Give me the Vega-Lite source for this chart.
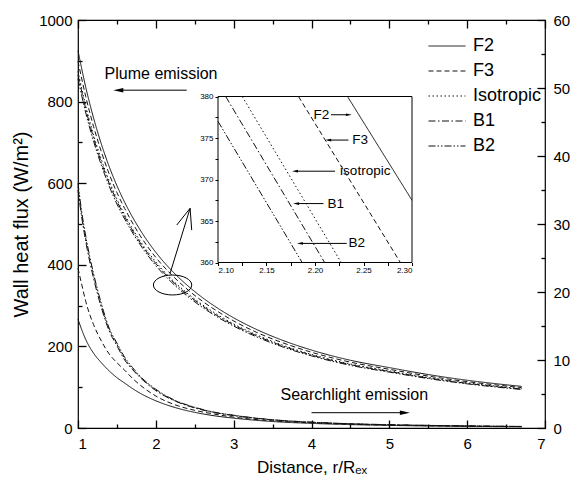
{
  "$schema": "https://vega.github.io/schema/vega-lite/v6.json",
  "width": 467,
  "height": 408,
  "autosize": {"type": "none"},
  "padding": {"left": 78, "top": 20, "right": 26, "bottom": 55},
  "background": "white",
  "config": {
    "font": "Liberation Sans",
    "view": {"stroke": "#000", "strokeWidth": 1.2},
    "axis": {
      "domain": false,
      "ticks": true,
      "tickColor": "#000",
      "tickOpacity": 1,
      "labelColor": "#000",
      "titleColor": "#000",
      "grid": false,
      "titleFontWeight": "normal",
      "labelFontSize": 15,
      "titleFontSize": 18,
      "tickWidth": 1.3,
      "zindex": 1
    },
    "legend": {"labelColor": "#000"}
  },
  "datasets": {
    "plume": [
      {"x": 1.0, "F2": 925, "F3": 899, "Isotropic": 874, "B1": 866, "B2": 856},
      {"x": 1.1, "F2": 835, "F3": 812, "Isotropic": 789, "B1": 782, "B2": 772},
      {"x": 1.2, "F2": 760, "F3": 739, "Isotropic": 718, "B1": 711, "B2": 703},
      {"x": 1.3, "F2": 696, "F3": 677, "Isotropic": 658, "B1": 651, "B2": 644},
      {"x": 1.4, "F2": 641, "F3": 623, "Isotropic": 606, "B1": 600, "B2": 593},
      {"x": 1.5, "F2": 594, "F3": 577, "Isotropic": 561, "B1": 556, "B2": 549},
      {"x": 1.6, "F2": 553, "F3": 538, "Isotropic": 523, "B1": 518, "B2": 512},
      {"x": 1.8, "F2": 485, "F3": 471, "Isotropic": 458, "B1": 454, "B2": 449},
      {"x": 2.0, "F2": 430.5, "F3": 418, "Isotropic": 407, "B1": 403, "B2": 398},
      {"x": 2.2, "F2": 386.6, "F3": 376, "Isotropic": 365, "B1": 362, "B2": 357.5},
      {"x": 2.4, "F2": 350.4, "F3": 340.6, "Isotropic": 331, "B1": 328, "B2": 324},
      {"x": 2.6, "F2": 319.5, "F3": 310.5, "Isotropic": 302, "B1": 299, "B2": 295.5},
      {"x": 2.8, "F2": 293, "F3": 285, "Isotropic": 277, "B1": 274, "B2": 271},
      {"x": 3.0, "F2": 270, "F3": 262.4, "Isotropic": 255, "B1": 252.7, "B2": 249.8},
      {"x": 3.3, "F2": 241, "F3": 234, "Isotropic": 228, "B1": 225.6, "B2": 223},
      {"x": 3.6, "F2": 217, "F3": 211, "Isotropic": 205, "B1": 203, "B2": 200.7},
      {"x": 4.0, "F2": 191, "F3": 185.7, "Isotropic": 180.5, "B1": 178.8, "B2": 176.7},
      {"x": 4.5, "F2": 166, "F3": 161.4, "Isotropic": 156.9, "B1": 155.4, "B2": 153.6},
      {"x": 5.0, "F2": 148, "F3": 143.9, "Isotropic": 139.9, "B1": 138.5, "B2": 136.9},
      {"x": 5.5, "F2": 131, "F3": 127.3, "Isotropic": 123.8, "B1": 122.6, "B2": 121.2},
      {"x": 6.0, "F2": 117, "F3": 113.7, "Isotropic": 110.6, "B1": 109.5, "B2": 108.2},
      {"x": 6.35, "F2": 109, "F3": 106, "Isotropic": 103, "B1": 102, "B2": 100.8},
      {"x": 6.7, "F2": 102, "F3": 99.1, "Isotropic": 96.4, "B1": 95.5, "B2": 94.4}
    ],
    "search": [
      {"x": 1.0, "F2": 16.0, "F3": 23.5, "Isotropic": 35.5, "B1": 35.0, "B2": 36.0},
      {"x": 1.05, "F2": 14.4, "F3": 21.0, "Isotropic": 31.2, "B1": 30.8, "B2": 31.6},
      {"x": 1.1, "F2": 13.0, "F3": 18.6, "Isotropic": 27.8, "B1": 27.4, "B2": 28.2},
      {"x": 1.2, "F2": 11.0, "F3": 15.2, "Isotropic": 22.4, "B1": 22.0, "B2": 22.7},
      {"x": 1.3, "F2": 9.6, "F3": 12.8, "Isotropic": 18.0, "B1": 17.7, "B2": 18.3},
      {"x": 1.4, "F2": 8.4, "F3": 10.9, "Isotropic": 14.5, "B1": 14.3, "B2": 14.7},
      {"x": 1.5, "F2": 7.4, "F3": 9.6, "Isotropic": 12.3, "B1": 12.1, "B2": 12.5},
      {"x": 1.6, "F2": 6.6, "F3": 8.5, "Isotropic": 10.2, "B1": 10.0, "B2": 10.4},
      {"x": 1.7, "F2": 5.8, "F3": 7.3, "Isotropic": 8.7, "B1": 8.6, "B2": 8.9},
      {"x": 1.8, "F2": 5.1, "F3": 6.3, "Isotropic": 7.5, "B1": 7.4, "B2": 7.6},
      {"x": 2.0, "F2": 4.0, "F3": 4.7, "Isotropic": 5.6, "B1": 5.5, "B2": 5.7},
      {"x": 2.25, "F2": 3.0, "F3": 3.4, "Isotropic": 4.0, "B1": 3.95, "B2": 4.05},
      {"x": 2.5, "F2": 2.3, "F3": 2.6, "Isotropic": 3.0, "B1": 2.95, "B2": 3.05},
      {"x": 2.75, "F2": 1.8, "F3": 2.05, "Isotropic": 2.3, "B1": 2.27, "B2": 2.33},
      {"x": 3.0, "F2": 1.45, "F3": 1.6, "Isotropic": 1.85, "B1": 1.82, "B2": 1.88},
      {"x": 3.5, "F2": 0.95, "F3": 1.05, "Isotropic": 1.2, "B1": 1.18, "B2": 1.22},
      {"x": 4.0, "F2": 0.68, "F3": 0.75, "Isotropic": 0.85, "B1": 0.84, "B2": 0.86},
      {"x": 4.5, "F2": 0.5, "F3": 0.55, "Isotropic": 0.62, "B1": 0.61, "B2": 0.63},
      {"x": 5.0, "F2": 0.38, "F3": 0.42, "Isotropic": 0.48, "B1": 0.47, "B2": 0.49},
      {"x": 5.5, "F2": 0.3, "F3": 0.33, "Isotropic": 0.38, "B1": 0.37, "B2": 0.39},
      {"x": 6.0, "F2": 0.24, "F3": 0.27, "Isotropic": 0.3, "B1": 0.3, "B2": 0.31},
      {"x": 6.7, "F2": 0.18, "F3": 0.2, "Isotropic": 0.22, "B1": 0.22, "B2": 0.23}
    ],
    "pointer": [
      {"x": 2.183, "x2": 2.44, "value": 379, "value2": 538.5},
      {"x": 2.44, "x2": 2.269, "value": 538.5, "value2": 497.5},
      {"x": 2.44, "x2": 2.461, "value": 538.5, "value2": 485}
    ],
    "ellipse": [{"x": 2.215, "value": 350.5}],
    "plumeAnn": [
      {"x": 2.067, "value": 868, "label": "Plume emission", "ax": 2.397, "ax2": 1.55, "ay": 828, "hx": 1.518, "dir": "left"}
    ],
    "searchAnn": [
      {"x": 4.55, "value": 4.86, "label": "Searchlight emission", "ax": 4.0, "ax2": 5.15, "ay": 2.25, "hx": 5.2, "dir": "right"}
    ],
    "insetFrame": [{"x": 2.1, "x2": 2.3, "value": 360, "value2": 380}],
    "insetLines": [
      {"series": "B2", "x": 2.1, "value": 377.0},
      {"series": "B2", "x": 2.1867, "value": 360},
      {"series": "B1", "x": 2.1079, "value": 380},
      {"series": "B1", "x": 2.2099, "value": 360},
      {"series": "Isotropic", "x": 2.125, "value": 380},
      {"series": "Isotropic", "x": 2.227, "value": 360},
      {"series": "F3", "x": 2.183, "value": 380},
      {"series": "F3", "x": 2.288, "value": 360},
      {"series": "F2", "x": 2.2335, "value": 380},
      {"series": "F2", "x": 2.3, "value": 367.5}
    ],
    "insetLabels": [
      {"label": "F2", "tx": 2.1985, "value": 377.8, "a1": 2.2165, "a2": 2.234, "hx": 2.2349, "dir": "right"},
      {"label": "F3", "tx": 2.2385, "value": 374.75, "a1": 2.2345, "a2": 2.214, "hx": 2.2136, "dir": "left"},
      {"label": "isotropic", "tx": 2.2259, "value": 371.0, "a1": 2.2207, "a2": 2.18, "hx": 2.1794, "dir": "left"},
      {"label": "B1", "tx": 2.2128, "value": 367.1, "a1": 2.2087, "a2": 2.181, "hx": 2.1805, "dir": "left"},
      {"label": "B2", "tx": 2.2345, "value": 362.3, "a1": 2.2327, "a2": 2.185, "hx": 2.1845, "dir": "left"}
    ]
  },
  "layer": [
    {
      "layer": [
        {
          "data": {"name": "plume"},
          "transform": [{"fold": ["F2", "F3", "Isotropic", "B1", "B2"], "as": ["series", "value"]}],
          "mark": {"type": "line", "interpolate": "monotone", "strokeWidth": 1, "color": "#111"},
          "encoding": {
            "x": {
              "field": "x", "type": "quantitative",
              "scale": {"domain": [1, 7], "nice": false, "zero": false},
              "axis": {
                "orient": "bottom",
                "offset": -8,
                "values": [1, 2, 3, 4, 5, 6, 7],
                "format": "d",
                "tickSize": 8,
                "labelPadding": 8,
                "title": "Distance, r/Rₑₓ",
                "titleFontSize": 17,
                "titlePadding": 8
              }
            },
            "y": {
              "field": "value", "type": "quantitative",
              "scale": {"domain": [0, 1000], "nice": false, "zero": false},
              "axis": {
                "orient": "left",
                "offset": -8,
                "values": [0, 200, 400, 600, 800, 1000],
                "format": "d",
                "tickSize": 8,
                "labelPadding": 6,
                "title": "Wall heat flux (W/m²)",
                "titleFontSize": 20,
                "titlePadding": 7
              }
            },
            "strokeDash": {
              "field": "series", "type": "nominal",
              "scale": {
                "domain": ["F2", "F3", "Isotropic", "B1", "B2"],
                "range": [[1, 0], [5, 3], [1.5, 2.5], [7, 2.5, 1.5, 2.5], [7, 2, 1.5, 2, 1.5, 2]]
              },
              "legend": {
                "orient": "none",
                "legendX": 359,
                "legendY": 16,
                "title": null,
                "symbolType": "M-2,0H2",
                "symbolSize": 342,
                "symbolStrokeWidth": 1,
                "symbolStrokeColor": "#000",
                "labelFontSize": 18,
                "labelOffset": 16,
                "rowPadding": 6
              }
            }
          }
        },
        {
          "data": {"name": "pointer"},
          "mark": {"type": "rule", "color": "#000", "strokeWidth": 1},
          "encoding": {
            "x": {"field": "x", "type": "quantitative"},
            "x2": {"field": "x2"},
            "y": {"field": "value", "type": "quantitative"},
            "y2": {"field": "value2"}
          }
        },
        {
          "data": {"name": "ellipse"},
          "mark": {"type": "point", "shape": "M-1,0A1,0.52,0,1,1,1,0A1,0.52,0,1,1,-1,0Z", "size": 1470, "filled": false, "stroke": "#000", "strokeWidth": 1, "opacity": 1},
          "encoding": {
            "x": {"field": "x", "type": "quantitative"},
            "y": {"field": "value", "type": "quantitative"}
          }
        }
      ]
    },
    {
      "data": {"name": "search"},
      "transform": [{"fold": ["F2", "F3", "Isotropic", "B1", "B2"], "as": ["series", "value"]}],
      "mark": {"type": "line", "interpolate": "monotone", "strokeWidth": 1, "color": "#111"},
      "encoding": {
        "x": {
          "field": "x", "type": "quantitative",
          "scale": {"domain": [1, 7], "nice": false, "zero": false},
          "axis": {
            "orient": "top",
            "offset": -8,
            "values": [1, 2, 3, 4, 5, 6, 7],
            "labels": false,
            "tickSize": 8,
            "title": null
          }
        },
        "y": {
          "field": "value", "type": "quantitative",
          "scale": {"domain": [0, 60], "nice": false, "zero": false},
          "axis": {
            "orient": "right",
            "offset": -8,
            "values": [0, 10, 20, 30, 40, 50, 60],
            "format": "d",
            "tickSize": 8,
            "labelPadding": 8,
            "title": null
          }
        },
        "strokeDash": {"field": "series", "type": "nominal"}
      }
    },
    {
      "layer": [
        {
          "data": {"name": "plumeAnn"},
          "mark": {"type": "text", "fontSize": 16, "color": "#000", "align": "center", "baseline": "middle"},
          "encoding": {
            "x": {
              "field": "x", "type": "quantitative",
              "scale": {"domain": [1, 7], "nice": false, "zero": false},
              "axis": {
                "orient": "bottom", "offset": -4, "values": [1.5, 2.5, 3.5, 4.5, 5.5, 6.5],
                "tickSize": 4, "labels": false, "title": null
              }
            },
            "y": {
              "field": "value", "type": "quantitative",
              "scale": {"domain": [0, 1000], "nice": false, "zero": false},
              "axis": {
                "orient": "left", "offset": -4, "values": [100, 300, 500, 700, 900],
                "tickSize": 4, "labels": false, "title": null
              }
            },
            "text": {"field": "label"}
          }
        },
        {
          "data": {"name": "plumeAnn"},
          "mark": {"type": "rule", "color": "#000", "strokeWidth": 1},
          "encoding": {
            "x": {"field": "ax", "type": "quantitative"},
            "x2": {"field": "ax2"},
            "y": {"field": "ay", "type": "quantitative"}
          }
        },
        {
          "data": {"name": "plumeAnn"},
          "mark": {"type": "point", "filled": true, "color": "#000", "size": 100, "opacity": 1},
          "encoding": {
            "x": {"field": "hx", "type": "quantitative"},
            "y": {"field": "ay", "type": "quantitative"},
            "shape": {
              "field": "dir", "type": "nominal",
              "scale": {"domain": ["left", "right"], "range": ["M-1,0L1,-0.45L1,0.45Z", "M1,0L-1,-0.45L-1,0.45Z"]},
              "legend": null
            }
          }
        }
      ]
    },
    {
      "layer": [
        {
          "data": {"name": "searchAnn"},
          "mark": {"type": "text", "fontSize": 16, "color": "#000", "align": "center", "baseline": "middle"},
          "encoding": {
            "x": {
              "field": "x", "type": "quantitative",
              "scale": {"domain": [1, 7], "nice": false, "zero": false},
              "axis": {
                "orient": "top", "offset": -4, "values": [1.5, 2.5, 3.5, 4.5, 5.5, 6.5],
                "tickSize": 4, "labels": false, "title": null
              }
            },
            "y": {
              "field": "value", "type": "quantitative",
              "scale": {"domain": [0, 60], "nice": false, "zero": false},
              "axis": {
                "orient": "right", "offset": -4, "values": [5, 15, 25, 35, 45, 55],
                "tickSize": 4, "labels": false, "title": null
              }
            },
            "text": {"field": "label"}
          }
        },
        {
          "data": {"name": "searchAnn"},
          "mark": {"type": "rule", "color": "#000", "strokeWidth": 1},
          "encoding": {
            "x": {"field": "ax", "type": "quantitative"},
            "x2": {"field": "ax2"},
            "y": {"field": "ay", "type": "quantitative"}
          }
        },
        {
          "data": {"name": "searchAnn"},
          "mark": {"type": "point", "filled": true, "color": "#000", "size": 100, "opacity": 1},
          "encoding": {
            "x": {"field": "hx", "type": "quantitative"},
            "y": {"field": "ay", "type": "quantitative"},
            "shape": {"field": "dir", "type": "nominal", "legend": null}
          }
        }
      ]
    },
    {
      "layer": [
        {
          "data": {"name": "insetFrame"},
          "mark": {"type": "rect", "filled": false, "stroke": "#000", "strokeWidth": 1},
          "encoding": {
            "x": {
              "field": "x", "type": "quantitative",
              "scale": {"domain": [2.1, 2.3], "range": [140, 334], "nice": false, "zero": false},
              "axis": {
                "orient": "bottom",
                "offset": -165.5,
                "values": [2.1, 2.125, 2.15, 2.175, 2.2, 2.225, 2.25, 2.275, 2.3],
                "labelExpr": "abs(datum.value*20 - round(datum.value*20)) < 0.001 ? format(datum.value, '.2f') : ''",
                "tickSize": 3,
                "labelPadding": 1,
                "labelFontSize": 8,
                "tickWidth": 1,
                "title": null
              }
            },
            "x2": {"field": "x2"},
            "y": {
              "field": "value", "type": "quantitative",
              "scale": {"domain": [360, 380], "range": [242.5, 76.5], "nice": false, "zero": false},
              "axis": {
                "orient": "left",
                "offset": -140,
                "values": [360, 362.5, 365, 367.5, 370, 372.5, 375, 377.5, 380],
                "labelExpr": "datum.value % 5 === 0 ? format(datum.value, 'd') : ''",
                "tickSize": 3,
                "labelPadding": 2,
                "labelFontSize": 8,
                "tickWidth": 1,
                "title": null
              }
            },
            "y2": {"field": "value2"}
          }
        },
        {
          "data": {"name": "insetLines"},
          "mark": {"type": "line", "strokeWidth": 1, "color": "#111"},
          "encoding": {
            "x": {"field": "x", "type": "quantitative"},
            "y": {"field": "value", "type": "quantitative"},
            "strokeDash": {"field": "series", "type": "nominal"}
          }
        },
        {
          "data": {"name": "insetLabels"},
          "mark": {"type": "rule", "color": "#000", "strokeWidth": 1},
          "encoding": {
            "x": {"field": "a1", "type": "quantitative"},
            "x2": {"field": "a2"},
            "y": {"field": "value", "type": "quantitative"}
          }
        },
        {
          "data": {"name": "insetLabels"},
          "mark": {"type": "point", "filled": true, "color": "#000", "size": 36, "opacity": 1},
          "encoding": {
            "x": {"field": "hx", "type": "quantitative"},
            "y": {"field": "value", "type": "quantitative"},
            "shape": {"field": "dir", "type": "nominal", "legend": null}
          }
        },
        {
          "data": {"name": "insetLabels"},
          "mark": {"type": "text", "fontSize": 13.5, "color": "#000", "align": "left", "baseline": "middle"},
          "encoding": {
            "x": {"field": "tx", "type": "quantitative"},
            "y": {"field": "value", "type": "quantitative"},
            "text": {"field": "label"}
          }
        }
      ]
    }
  ],
  "resolve": {"scale": {"x": "independent", "y": "independent"}}
}
